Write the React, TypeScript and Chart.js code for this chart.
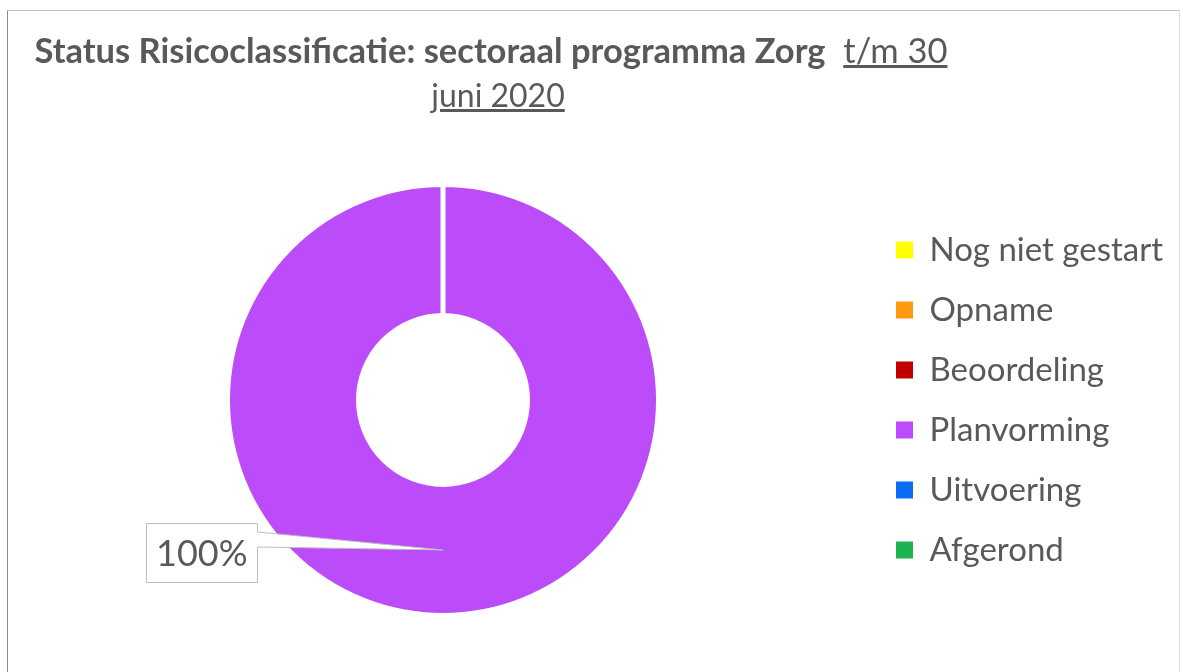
import React, { useEffect, useRef } from 'react';
import { Chart, registerables } from 'chart.js';

Chart.register(...registerables);

// ---- data ----
const categories = ['Nog niet gestart', 'Opname', 'Beoordeling', 'Planvorming', 'Uitvoering', 'Afgerond'];
const shares = [0, 0, 0, 100, 0, 0];
const sliceColors = ['#FFFF00', '#FF9A0F', '#C00000', '#BC4BFA', '#0A6CF5', '#1DB34F'];
const titleMain = 'Status Risicoclassificatie: sectoraal programma Zorg';
const titleDate1 = 't/m 30';
const titleDate2 = 'juni 2020';

const TEXT = '#595959';
const FONT = 'Lato, "Open Sans", sans-serif';
const LEGEND_LEFT = 869;
const LEGEND_WIDTH = 1183 - LEGEND_LEFT;

const legendWidthPlugin = {
  id: 'legendWidth',
  beforeLayout(chart: any) {
    const lg = chart.legend;
    if (lg && !lg.__fixed) {
      const orig = lg.fit.bind(lg);
      lg.fit = function () {
        orig();
        this.width = LEGEND_WIDTH;
      };
      lg.__fixed = true;
    }
  },
};

const calloutPlugin = {
  id: 'callout',
  afterDatasetsDraw(chart: any) {
    const ctx = chart.ctx as CanvasRenderingContext2D;
    const meta = chart.getDatasetMeta(0);
    const data = chart.data.datasets[0].data as number[];
    const total = data.reduce((a, b) => a + b, 0);
    meta.data.forEach((arc: any, i: number) => {
      const v = data[i];
      if (!v) return;
      const p = arc.getProps(['x', 'y', 'startAngle', 'endAngle', 'innerRadius', 'outerRadius'], true);
      const mid = (p.startAngle + p.endAngle) / 2;
      const r = (p.innerRadius + p.outerRadius) / 2;
      const tx = p.x + Math.cos(mid) * r;
      const ty = p.y + Math.sin(mid) * r;
      const label = Math.round((v / total) * 100) + '%';
      ctx.save();
      ctx.font = `36px ${FONT}`;
      const tw = ctx.measureText(label).width;
      const bxr = Math.round(tx - 186) + 0.5;
      const bxl = Math.round(bxr - Math.max(110, tw + 20));
      const byt = Math.round(ty - 27) + 0.5;
      const byb = byt + 59;
      ctx.beginPath();
      ctx.moveTo(bxl + 0.5, byt);
      ctx.lineTo(bxr, byt);
      ctx.lineTo(bxr, ty - 18);
      ctx.lineTo(tx, ty);
      ctx.lineTo(bxr, ty - 3);
      ctx.lineTo(bxr, byb);
      ctx.lineTo(bxl + 0.5, byb);
      ctx.closePath();
      ctx.fillStyle = '#ffffff';
      ctx.fill();
      ctx.strokeStyle = '#bdbdbd';
      ctx.lineWidth = 1;
      ctx.stroke();
      ctx.fillStyle = TEXT;
      ctx.textAlign = 'center';
      ctx.textBaseline = 'middle';
      ctx.fillText(label, (bxl + bxr) / 2, (byt + byb) / 2 + 1);
      ctx.restore();
    });
  },
};

export default function App() {
  const ref = useRef<HTMLCanvasElement>(null);
  useEffect(() => {
    if (!ref.current) return;
    const baseGen = (Chart as any).overrides.doughnut.plugins.legend.labels.generateLabels;
    const chart = new Chart(ref.current, {
      type: 'doughnut',
      data: {
        labels: categories,
        datasets: [
          {
            data: shares,
            backgroundColor: sliceColors,
            borderColor: '#ffffff',
            borderWidth: 5,
          },
        ],
      },
      options: {
        responsive: false,
        animation: false,
        cutout: '39.2%',
        layout: { padding: { top: 182, bottom: 54, left: 17, right: 0 } },
        plugins: {
          title: { display: false },
          tooltip: { enabled: false },
          legend: {
            position: 'right',
            labels: {
              boxWidth: 17,
              boxHeight: 17,
              padding: 27,
              color: TEXT,
              font: { family: FONT, size: 33 },
              generateLabels: (c: any) =>
                baseGen(c).map((l: any) => ({ ...l, lineWidth: 0, strokeStyle: 'transparent' })),
            },
          },
        },
      },
      plugins: [legendWidthPlugin, calloutPlugin],
    } as any);
    return () => chart.destroy();
  }, []);

  return (
    <div>
      <div
        style={{
          position: 'fixed',
          left: 7,
          top: 10,
          width: 1173,
          height: 720,
          borderLeft: '1px solid #8c8c8c',
          borderTop: '1px solid #bfbfbf',
          borderRight: '1px solid #e0e0e0',
          boxSizing: 'border-box',
        }}
      />
      <canvas
        ref={ref}
        width={1183}
        height={672}
        style={{ position: 'fixed', left: 0, top: 0, width: 1183, height: 672 }}
      />
      <div
        style={{
          position: 'fixed',
          left: 0,
          top: 26,
          width: 982,
          textAlign: 'center',
          color: TEXT,
          fontFamily: FONT,
          fontSize: 34.5,
          lineHeight: '47px',
          whiteSpace: 'nowrap',
        }}
      >
        <span style={{ fontWeight: 700 }}>{titleMain}</span>
        {'\u00a0\u00a0'}
        <span style={{ textDecoration: 'underline' }}>{titleDate1}</span>
      </div>
      <div
        style={{
          position: 'fixed',
          left: 0,
          top: 75,
          width: 996,
          textAlign: 'center',
          color: TEXT,
          fontFamily: FONT,
          fontSize: 32,
          lineHeight: '40px',
          whiteSpace: 'nowrap',
        }}
      >
        <span style={{ textDecoration: 'underline' }}>{titleDate2}</span>
      </div>
    </div>
  );
}
